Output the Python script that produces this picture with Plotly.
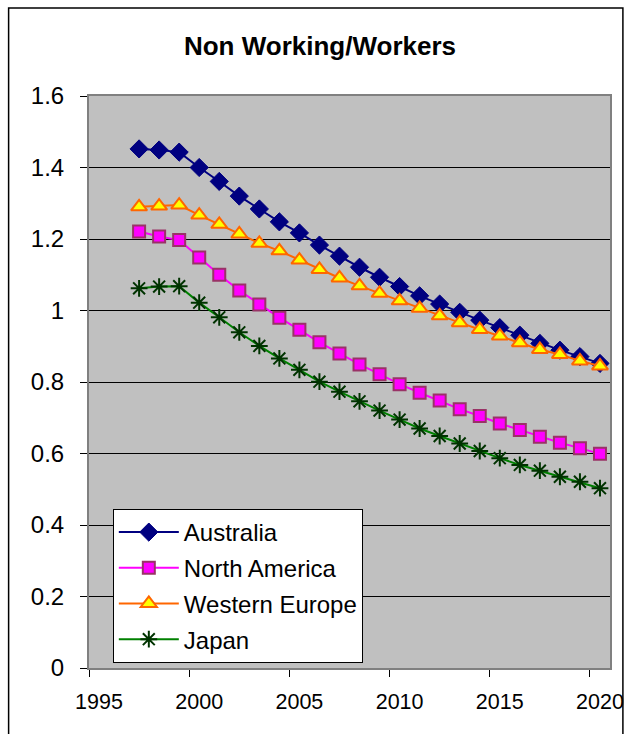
import plotly.graph_objects as go

# Ratio of non-working population to workers, by region
years = list(range(1997, 2021))

australia = [1.452, 1.449, 1.443, 1.400, 1.361, 1.320, 1.284, 1.248, 1.217, 1.183,
             1.152, 1.121, 1.093, 1.067, 1.041, 1.018, 0.995, 0.973, 0.952, 0.931,
             0.908, 0.889, 0.871, 0.852]
north_america = [1.221, 1.207, 1.197, 1.148, 1.100, 1.056, 1.017, 0.980, 0.946, 0.911,
                 0.880, 0.849, 0.822, 0.794, 0.770, 0.748, 0.724, 0.705, 0.684, 0.666,
                 0.647, 0.630, 0.615, 0.599]
western_europe = [1.290, 1.292, 1.295, 1.267, 1.241, 1.214, 1.188, 1.167, 1.141, 1.115,
                  1.091, 1.069, 1.048, 1.027, 1.006, 0.985, 0.966, 0.947, 0.929, 0.910,
                  0.891, 0.877, 0.859, 0.845]
japan = [1.062, 1.067, 1.068, 1.022, 0.981, 0.939, 0.901, 0.866, 0.834, 0.801,
         0.773, 0.746, 0.720, 0.695, 0.670, 0.649, 0.628, 0.607, 0.587, 0.568,
         0.552, 0.535, 0.521, 0.503]

x_ticks = [1995, 2000, 2005, 2010, 2015, 2020]
y_ticks = [0, 0.2, 0.4, 0.6, 0.8, 1, 1.2, 1.4, 1.6]

FONT = "Liberation Sans, Arial, sans-serif"
W, H = 636, 734
ML, MR, MT, MB = 89, 22, 96, 66

fig = go.Figure()

fig.add_trace(go.Scatter(
    x=years, y=australia, name="Australia", mode="lines+markers",
    legendgroup="a",
    line=dict(color="#000080", width=2),
    marker=dict(symbol="diamond", size=14, color="#000080",
                line=dict(color="#000080", width=1)),
))
fig.add_trace(go.Scatter(
    x=years, y=north_america, name="North America", mode="lines+markers",
    legendgroup="b",
    line=dict(color="#FF00FF", width=2),
    marker=dict(symbol="square", size=12, color="#FF00FF",
                line=dict(color="#993366", width=2)),
))
fig.add_trace(go.Scatter(
    x=years, y=western_europe, name="Western Europe", mode="lines+markers",
    legendgroup="c",
    line=dict(color="#FF6600", width=2),
    marker=dict(symbol="triangle-up", size=14, color="#FFFF00",
                line=dict(color="#FF6600", width=2)),
))
fig.add_trace(go.Scatter(
    x=years, y=japan, name="Japan", mode="lines+markers",
    legendgroup="d",
    line=dict(color="#008000", width=2),
    marker=dict(symbol="asterisk-open", size=14, color="#003300",
                line=dict(color="#003300", width=2)),
))

pw = W - ML - MR
ph = H - MT - MB

# Outer chart frame (in paper units relative to the plot area)
fig.add_shape(
    type="rect", xref="paper", yref="paper",
    x0=(8 - ML) / pw, x1=(627 - ML) / pw,
    y0=(H - 740 - MB) / ph, y1=(H - 8 - MB) / ph,
    line=dict(color="black", width=1.5), fillcolor="rgba(0,0,0,0)", layer="below",
)

fig.update_layout(
    width=W, height=H,
    margin=dict(l=ML, r=MR, t=MT, b=MB),
    paper_bgcolor="white",
    plot_bgcolor="#C0C0C0",
    font=dict(family=FONT, color="black"),
    title=dict(text="<b>Non Working/Workers</b>", x=320 / W, xref="container",
               xanchor="center", y=1 - 46 / H, yanchor="middle",
               font=dict(size=26, family=FONT)),
    showlegend=True,
    legend=dict(
        x=(113 - ML) / pw, y=(H - 509 - MB) / ph,
        xanchor="left", yanchor="top",
        bgcolor="white", bordercolor="black", borderwidth=1,
        font=dict(size=24, family=FONT),
        tracegroupgap=1.5, itemwidth=60,
    ),
)

# Category-style axis: labels centred on the year, tick marks on the boundaries
fig.update_xaxes(
    range=[1994.5, 2020.5], tickvals=x_ticks,
    showgrid=False, zeroline=False,
    showline=True, linecolor="#808080", linewidth=2, mirror=True,
    ticks="", ticklabelstandoff=13,
    minor=dict(tick0=1994.5, dtick=5, ticks="outside", ticklen=7,
               tickcolor="black", showgrid=False),
    tickfont=dict(size=21.5, family=FONT),
)
fig.update_yaxes(
    range=[0, 1.6], tickvals=y_ticks,
    showgrid=True, gridcolor="black", gridwidth=1, zeroline=False,
    showline=True, linecolor="#808080", linewidth=2, mirror=True,
    ticks="outside", ticklen=7, tickcolor="black", ticklabelstandoff=11,
    tickfont=dict(size=24, family=FONT),
)

fig.write_html("out.html")
